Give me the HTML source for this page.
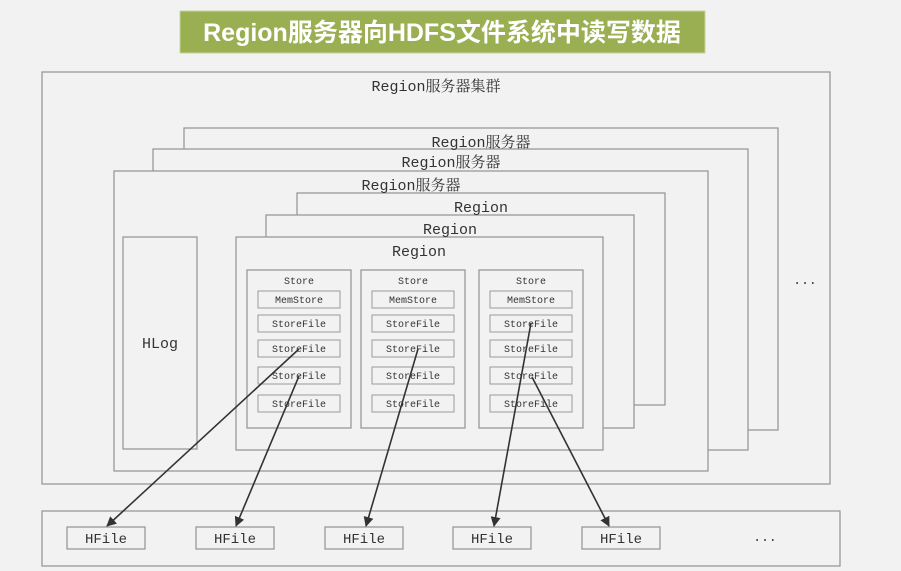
<!DOCTYPE html>
<html><head><meta charset="utf-8"><style>
html,body{margin:0;padding:0;background:#f2f2f2;}
svg{display:block}
</style></head><body>
<svg width="901" height="571" xmlns="http://www.w3.org/2000/svg">
<defs><marker id="a" markerWidth="10" markerHeight="10" refX="9" refY="5" orient="auto" markerUnits="userSpaceOnUse"><path d="M0,0 L10,5 L0,10 Z" fill="#333"/></marker></defs>
<rect width="901" height="571" fill="#f2f2f2"/>
<rect x="180" y="11" width="525" height="42" fill="#9aaf52" stroke="#c6d49a"/>
<text x="442" y="41" text-anchor="middle" font-family="'Liberation Sans','Noto Sans CJK SC',sans-serif" font-weight="bold" font-size="25" fill="#fff">Region服务器向HDFS文件系统中读写数据</text>
<g fill="#f2f2f2" stroke="#999" stroke-width="1.3">
<rect x="42" y="72" width="788" height="412"/>
<rect x="184" y="128" width="594" height="302"/>
<rect x="153" y="149" width="595" height="301"/>
<rect x="114" y="171" width="594" height="300"/>
<rect x="123" y="237" width="74" height="212"/>
<rect x="297" y="193" width="368" height="212"/>
<rect x="266" y="215" width="368" height="213"/>
<rect x="236" y="237" width="367" height="213"/>
<rect x="247" y="270" width="104" height="158"/>
<rect x="361" y="270" width="104" height="158"/>
<rect x="479" y="270" width="104" height="158"/>
<rect x="42" y="511" width="798" height="55"/>
</g>
<g font-family="'Liberation Mono','Noto Serif CJK SC',monospace" fill="#333" text-anchor="middle">
<text x="436" y="91" font-size="15">Region服务器集群</text>
<text x="481" y="147" font-size="15">Region服务器</text>
<text x="451" y="167" font-size="15">Region服务器</text>
<text x="411" y="190" font-size="15">Region服务器</text>
<text x="481" y="212" font-size="15">Region</text>
<text x="450" y="234" font-size="15">Region</text>
<text x="419" y="256" font-size="15">Region</text>
<text x="160" y="348" font-size="15">HLog</text>
<text x="805" y="284" font-size="13">...</text>
<text x="765" y="541" font-size="13">...</text>
</g>
<g font-family="'Liberation Mono',monospace" fill="#333" font-size="10" text-anchor="middle" stroke="none">
<g id="s1">
<text x="299" y="284">Store</text>
<rect x="258" y="291" width="82" height="17" fill="none" stroke="#999"/><text x="299" y="303">MemStore</text>
<rect x="258" y="315" width="82" height="17" fill="none" stroke="#999"/><text x="299" y="327">StoreFile</text>
<rect x="258" y="340" width="82" height="17" fill="none" stroke="#999"/><text x="299" y="352">StoreFile</text>
<rect x="258" y="367" width="82" height="17" fill="none" stroke="#999"/><text x="299" y="379">StoreFile</text>
<rect x="258" y="395" width="82" height="17" fill="none" stroke="#999"/><text x="299" y="407">StoreFile</text>
</g>
<use href="#s1" x="114"/>
<use href="#s1" x="232"/>
</g>
<g font-family="'Liberation Mono',monospace" fill="#333" font-size="14" text-anchor="middle">
<g fill="none" stroke="#999" stroke-width="1.3">
<rect x="67" y="527" width="78" height="22"/>
<rect x="196" y="527" width="78" height="22"/>
<rect x="325" y="527" width="78" height="22"/>
<rect x="453" y="527" width="78" height="22"/>
<rect x="582" y="527" width="78" height="22"/>
</g>
<text x="106" y="543">HFile</text>
<text x="235" y="543">HFile</text>
<text x="364" y="543">HFile</text>
<text x="492" y="543">HFile</text>
<text x="621" y="543">HFile</text>
</g>
<g stroke="#333" stroke-width="1.6" marker-end="url(#a)">
<line x1="299" y1="349" x2="107" y2="526"/>
<line x1="299" y1="376" x2="236" y2="526"/>
<line x1="418" y1="349" x2="366" y2="526"/>
<line x1="531" y1="323" x2="494" y2="526"/>
<line x1="532" y1="377" x2="609" y2="526"/>
</g>
</svg>
</body></html>
